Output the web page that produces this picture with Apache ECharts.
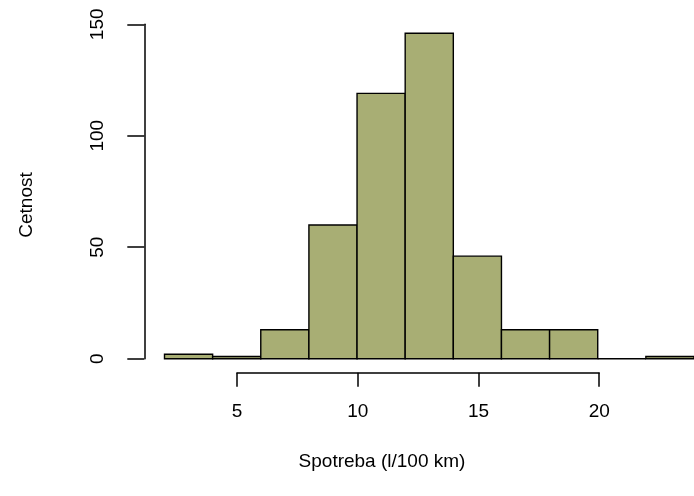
<!DOCTYPE html>
<html>
<head>
<meta charset="utf-8">
<script src="https://cdn.jsdelivr.net/npm/echarts@6/dist/echarts.min.js"></script>
<style>html,body{margin:0;padding:0;background:#fff;}#c{width:694px;height:496px;}</style>
</head>
<body>
<div id="c"></div>
<script>
const binStarts = [2, 4, 6, 8, 10, 12, 14, 16, 18, 20, 22];
const binEnds   = [4, 6, 8, 10, 12, 14, 16, 18, 20, 22, 24];
const counts    = [2, 1, 13, 60, 119, 146, 46, 13, 13, 0, 1];
const xTicks = [5, 10, 15, 20];
const yTicks = [0, 50, 100, 150];
const xTitle = 'Spotreba (l/100 km)';
const yTitle = 'Cetnost';

const FONT = 'Liberation Sans, Arial, Helvetica, sans-serif';
const chart = echarts.init(document.getElementById('c'), null, {renderer: 'canvas'});
const data = binStarts.map((s, i) => [s, binEnds[i], counts[i]]);

chart.setOption({
  animation: false,
  backgroundColor: '#ffffff',
  grid: [
    {left: 164.5, right: -1.8, top: 24.3, bottom: 137.3},
    {left: 237, width: 362.2, top: 24.3, bottom: 123.3}
  ],
  xAxis: [
    {gridIndex: 0, type: 'value', min: 2, max: 24, show: false},
    {gridIndex: 1, type: 'value', min: 5, max: 20, interval: 5,
     axisLine: {show: true, onZero: false, lineStyle: {color: '#000', width: 1.5}},
     axisTick: {show: true, length: 14, lineStyle: {color: '#000', width: 1.5}},
     axisLabel: {show: true, margin: 30, color: '#000', fontSize: 19, fontFamily: FONT,
       customValues: xTicks},
     splitLine: {show: false}}
  ],
  yAxis: [
    {gridIndex: 0, type: 'value', min: 0, max: 150, interval: 50, offset: 20.2,
     axisLine: {show: true, lineStyle: {color: '#000', width: 1.5}},
     axisTick: {show: true, length: 17, lineStyle: {color: '#000', width: 1.5}},
     axisLabel: {show: true, rotate: 90, margin: 37, color: '#000', fontSize: 19, fontFamily: FONT,
       verticalAlign: 'bottom', align: 'center', customValues: yTicks},
     splitLine: {show: false}},
    {gridIndex: 1, type: 'value', min: 0, max: 1, show: false}
  ],
  series: [{
    type: 'custom',
    xAxisIndex: 0, yAxisIndex: 0,
    clip: false,
    data: data,
    renderItem: function (params, api) {
      const p0 = api.coord([api.value(0), api.value(2)]);
      const p1 = api.coord([api.value(1), 0]);
      return {
        type: 'rect',
        shape: {x: p0[0], y: p0[1], width: p1[0] - p0[0], height: p1[1] - p0[1]},
        style: {fill: '#a8ae74', stroke: '#000', lineWidth: 1.4}
      };
    }
  }],
  graphic: [
    {type: 'text', x: 382, y: 462, style: {text: xTitle, font: '19px ' + FONT, fill: '#000', align: 'center', verticalAlign: 'middle'}},
    {type: 'text', x: 27, y: 205, rotation: Math.PI / 2, style: {text: yTitle, font: '19px ' + FONT, fill: '#000', align: 'center', verticalAlign: 'middle'}}
  ]
});
</script>
</body>
</html>
